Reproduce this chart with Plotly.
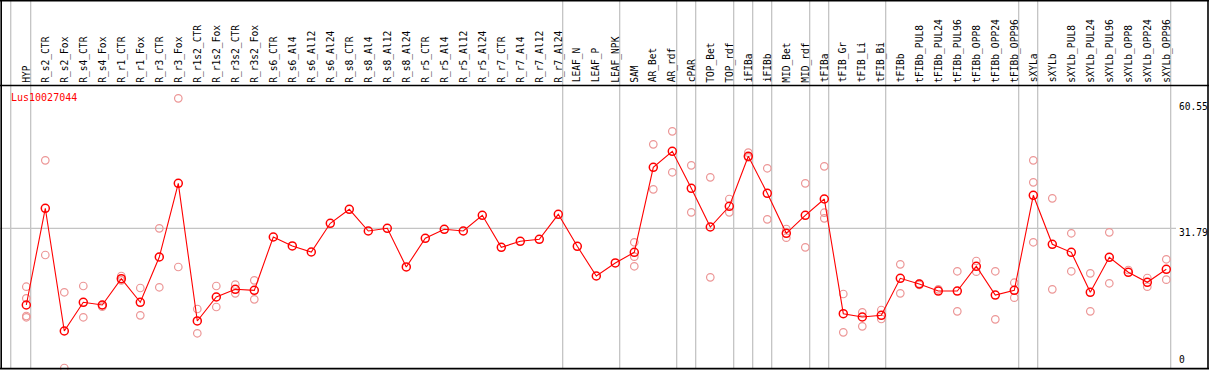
import plotly.graph_objects as go

categories = ["HYP", "R_s2_CTR", "R_s2_Fox", "R_s4_CTR", "R_s4_Fox", "R_r1_CTR", "R_r1_Fox",
              "R_r3_CTR", "R_r3_Fox", "R_r1s2_CTR", "R_r1s2_Fox", "R_r3s2_CTR", "R_r3s2_Fox",
              "R_s6_CTR", "R_s6_Al4", "R_s6_Al12", "R_s6_Al24", "R_s8_CTR", "R_s8_Al4",
              "R_s8_Al12", "R_s8_Al24", "R_r5_CTR", "R_r5_Al4", "R_r5_Al12", "R_r5_Al24",
              "R_r7_CTR", "R_r7_Al4", "R_r7_Al12", "R_r7_Al24", "LEAF_N", "LEAF_P", "LEAF_NPK",
              "SAM", "AR_Bet", "AR_rdf", "cPAR", "TOP_Bet", "TOP_rdf", "iFIBa", "iFIBb",
              "MID_Bet", "MID_rdf", "tFIBa", "tFIB_Gr", "tFIB_Li", "tFIB_Bi", "tFIBb",
              "tFIBb_PUL8", "tFIBb_PUL24", "tFIBb_PUL96", "tFIBb_OPP8", "tFIBb_OPP24",
              "tFIBb_OPP96", "sXYLa", "sXYLb", "sXYLb_PUL8", "sXYLb_PUL24", "sXYLb_PUL96",
              "sXYLb_OPP8", "sXYLb_OPP24", "sXYLb_OPP96"]

means = [14.34, 36.35, 8.42, 14.95, 14.34, 20.32, 14.95, 25.26, 42.03, 10.70, 16.16, 17.91,
         17.68, 29.81, 27.77, 26.40, 32.93, 36.12, 31.18, 31.79, 22.99, 29.52, 31.57, 31.18,
         34.75, 27.47, 28.83, 29.29, 34.98, 27.70, 20.94, 23.90, 26.33, 45.68, 49.32, 40.90,
         32.09, 36.80, 48.18, 39.76, 30.66, 34.75, 38.46, 12.36, 11.61, 11.99, 20.41, 19.12,
         17.52, 17.52, 23.15, 16.61, 17.68, 39.30, 28.15, 26.33, 17.23, 25.19, 21.78, 19.50,
         22.46]

replicates = [
    [18.50, 15.86, 11.83, 11.54], [47.27, 25.72], [17.23, 0.0], [18.66, 11.54], [14.34, 13.95],
    [20.94, 19.96], [18.21, 11.99], [31.79, 18.37], [61.38, 22.99], [13.43, 7.90],
    [18.66, 13.88], [18.96, 17.00], [19.96, 15.63], [], [], [], [], [], [], [], [], [], [], [],
    [], [], [], [], [], [], [], [], [28.61, 25.33, 23.15], [50.91, 40.67], [53.87, 44.54],
    [46.13, 35.43], [43.40, 20.64], [38.46, 35.43], [49.00, 47.95], [45.45, 33.84],
    [31.63, 29.65], [42.03, 27.47], [45.90, 35.34, 34.07], [16.84, 8.12], [12.68, 9.49],
    [13.20, 11.15], [23.60, 17.00], [19.23, 18.89], [17.91], [22.01, 12.90], [24.35, 21.92],
    [22.01, 11.08], [19.41, 16.00], [47.27, 42.26, 28.61], [38.62, 17.91], [30.66, 22.01],
    [21.55, 12.90], [30.88, 19.28], [22.30], [20.48, 18.50], [24.74, 20.10]]

group_ends = [-1, 0, 28, 31, 34, 35, 37, 38, 39, 41, 42, 45, 52, 53, 60]
axis_values = [60.55, 31.79, 0]
axis_labels = ["60.55", "31.79", "0"]
gene = "Lus10027044"

W, H = 1209, 370
step = 19.0
x_first = 26.3
scale = 4.394
base = 368.0
xr = [-x_first / step, (W - x_first) / step]
yr = [-(H - base) / scale, base / scale]

RED = "#ff0000"
PINK = "rgb(236,150,150)"
GRID = "#c4c4c4"
FONT = "DejaVu Sans Mono"


def px(xp):
    return xp / W


def py(yp):
    return 1 - yp / H


xs = list(range(len(categories)))
rx, ry = [], []
for i, reps in enumerate(replicates):
    for v in reps:
        rx.append(i)
        ry.append(v)

fig = go.Figure()
fig.add_trace(go.Scatter(x=rx, y=ry, mode="markers",
                         marker=dict(symbol="circle-open", size=7.5, color=PINK,
                                     line=dict(width=1.2, color=PINK)),
                         hoverinfo="skip", showlegend=False, cliponaxis=False))
fig.add_trace(go.Scatter(x=xs, y=means, mode="lines+markers",
                         line=dict(color=RED, width=1.1),
                         marker=dict(symbol="circle-open", size=8, color=RED,
                                     line=dict(width=1.5, color=RED)),
                         showlegend=False, cliponaxis=False))

shapes = []
# group separators
for e in group_ends:
    off = 0.18 if e < 0 else 0.23
    shapes.append(dict(type="line", xref="x", yref="paper", x0=e + off, x1=e + off,
                       y0=py(368.5), y1=1, line=dict(color=GRID, width=1.3), layer="below"))
# horizontal gridline
shapes.append(dict(type="line", xref="paper", yref="y", x0=0, x1=px(1176),
                   y0=axis_values[1], y1=axis_values[1], line=dict(color=GRID, width=1.3),
                   layer="below"))
# frame
blk = dict(color="black", width=1.6)
shapes += [
    dict(type="line", xref="paper", yref="paper", x0=0, x1=1, y0=py(0.8), y1=py(0.8), line=blk),
    dict(type="line", xref="paper", yref="paper", x0=0, x1=1, y0=py(85.5), y1=py(85.5), line=blk),
    dict(type="line", xref="paper", yref="paper", x0=0, x1=1, y0=py(368.6), y1=py(368.6), line=blk),
    dict(type="line", xref="paper", yref="paper", x0=px(1.2), x1=px(1.2), y0=py(0), y1=py(369), line=blk),
    dict(type="line", xref="paper", yref="paper", x0=px(1208), x1=px(1208), y0=py(0), y1=py(369), line=blk),
]

annotations = []
for i, c in enumerate(categories):
    annotations.append(dict(x=i, xref="x", y=py(83.5), yref="paper", text=c, textangle=-90,
                            showarrow=False, xanchor="center", yanchor="bottom",
                            font=dict(family=FONT, size=9.6, color="black"), borderpad=0))
annotations.append(dict(x=px(9), xref="paper", y=py(97.5), yref="paper", text=gene,
                        showarrow=False, xanchor="left", yanchor="middle",
                        font=dict(family=FONT, size=10, color=RED)))
for v, t in zip(axis_values, axis_labels):
    if v == 0:
        annotations.append(dict(x=px(1177), xref="paper", y=py(367), yref="paper", text=t,
                                showarrow=False, xanchor="left", yanchor="bottom",
                                font=dict(family=FONT, size=9.6, color="black")))
    else:
        annotations.append(dict(x=px(1177), xref="paper", y=v, yref="y", text=t,
                                showarrow=False, xanchor="left", yanchor="top", yshift=3,
                                font=dict(family=FONT, size=9.6, color="black")))

fig.update_layout(
    width=W, height=H, margin=dict(l=0, r=0, t=0, b=0, pad=0),
    paper_bgcolor="white", plot_bgcolor="white",
    xaxis=dict(range=xr, visible=False, fixedrange=True),
    yaxis=dict(range=yr, visible=False, fixedrange=True),
    shapes=shapes, annotations=annotations, showlegend=False,
)

fig.write_html("out.html", config={"displayModeBar": False},
               post_script="document.body.style.margin='0';document.body.style.padding='0';"
                           "document.body.style.overflow='hidden';")
